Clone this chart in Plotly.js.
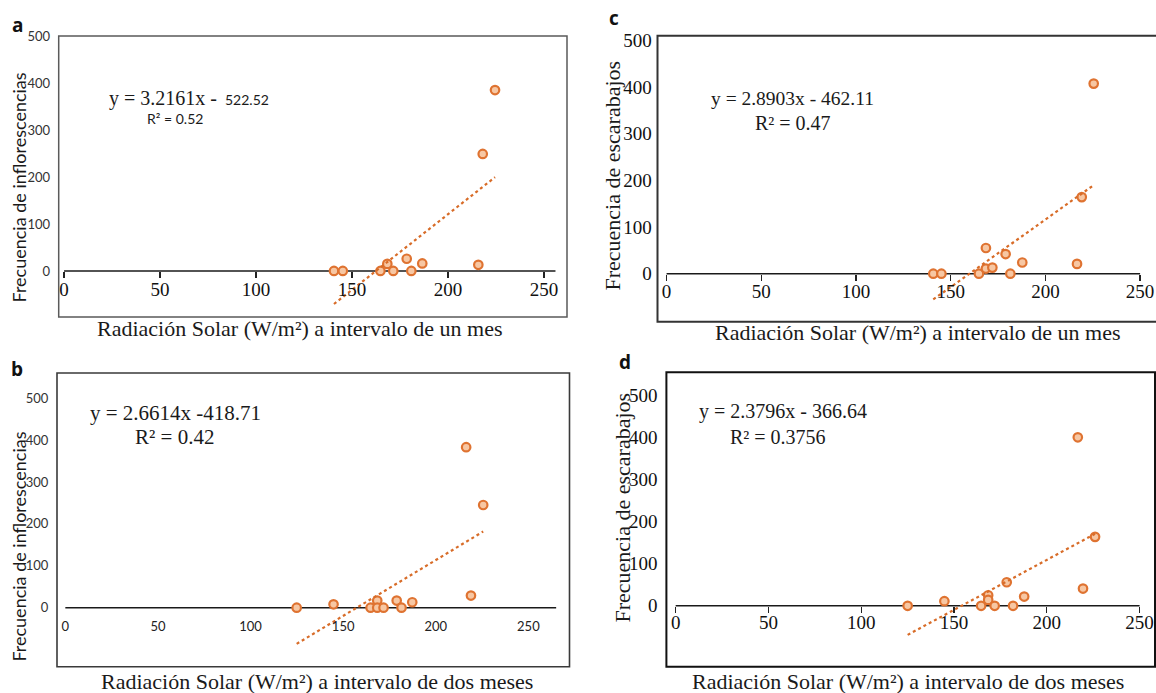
<!DOCTYPE html>
<html>
<head>
<meta charset="utf-8">
<script src="https://cdn.plot.ly/plotly-3.0.1.min.js"></script>
<style>html,body{margin:0;padding:0;background:#fff;}</style>
</head>
<body>
<div id="chart" style="width:1156px;height:693px;"></div>
<script>
// Solar radiation (W/m²) against inflorescence and beetle counts, four panels.
const xTicks = [0, 50, 100, 150, 200, 250];
const yTicks = [0, 100, 200, 300, 400, 500];

// a: inflorescences, one-month interval
const radMesA  = [140.6, 145.2, 164.8, 168.4, 171.5, 178.5, 180.9, 186.6, 215.8, 218.1, 224.5];
const florMesA = [0, 0, 0, 15, 0, 26, 0, 16, 13, 249, 385];
const fitA = [3.2161, -522.52];

// b: inflorescences, two-month interval
const radDosB  = [124.9, 144.8, 164.8, 168.4, 168.4, 171.8, 178.9, 181.5, 187.3, 216.4, 219.0, 225.6];
const florDosB = [0, 8, 0, 17, 0, 0, 17, 0, 13, 383, 29, 245];
const fitB = [2.6614, -418.71];

// c: beetles, one-month interval
const radMesC  = [140.8, 145.1, 164.9, 168.6, 168.6, 172.0, 179.0, 181.5, 187.8, 216.7, 219.2, 225.5];
const escMesC  = [0, 0, 0, 11, 55, 13, 42, 0, 24, 21, 164, 407];
const fitC = [2.8903, -462.11];

// d: beetles, two-month interval
const radDosD  = [125.0, 144.8, 164.6, 168.4, 168.4, 171.9, 178.4, 181.8, 187.8, 216.7, 219.5, 226.0];
const escDosD  = [0, 11, 0, 25, 14, 0, 56, 0, 22, 401, 41, 164];
const fitD = [2.3796, -366.64];

const W = 1156, H = 693;
const ORANGE = '#df7331';
const SERIF = '"Liberation Serif", "Times New Roman", serif';
const SANS = 'Lato, "Open Sans", sans-serif';

// panel geometry (paper fractions) and axis ranges
const panels = [
  { key: '',  xs: radMesA, ys: florMesA, fit: fitA,
    xdom: [58.7 / W, 567 / W], ydom: [1 - 317 / H, 1 - 36 / H],
    xr: [-2.8, 262], yr: [-98, 500], lineEnd: 256, xoff: -5,
    xtf: { family: SERIF, size: 19, color: '#111' }, ytf: { family: SANS, size: 13, color: '#333' },
    ticks: true, ylen: 5, boxColor: '#5a5a5a', boxW: 1.5, open: false },
  { key: '2', xs: radDosB, ys: florDosB, fit: fitB,
    xdom: [57 / W, 569.5 / W], ydom: [1 - 666.7 / H, 1 - 373 / H],
    xr: [-4.5, 272.2], yr: [-140.8, 560], lineEnd: 265, xoff: -2,
    xtf: { family: SANS, size: 13, color: '#222' }, ytf: { family: SANS, size: 13, color: '#333' },
    ticks: false, ylen: 5, boxColor: '#3a3a3a', boxW: 1.6, open: false },
  { key: '3', xs: radMesC, ys: escMesC, fit: fitC,
    xdom: [657.5 / W, 1], ydom: [1 - 321.7 / H, 1 - 35.7 / H],
    xr: [-4.8, 258.4], yr: [-102.8, 509.6], lineEnd: 250, xoff: -5,
    xtf: { family: SERIF, size: 19, color: '#111' }, ytf: { family: SERIF, size: 19, color: '#111' },
    ticks: true, ylen: 1, boxColor: '#333', boxW: 2, open: true },
  { key: '4', xs: radDosD, ys: escDosD, fit: fitD,
    xdom: [666.4 / W, 1155 / W], ydom: [1 - 666.7 / H, 1 - 372.3 / H],
    xr: [-5, 258.3], yr: [-145, 555.7], lineEnd: 250, xoff: -7,
    xtf: { family: SERIF, size: 19, color: '#111' }, ytf: { family: SERIF, size: 19, color: '#111' },
    ticks: true, ylen: 4, boxColor: '#111', boxW: 2, open: false }
];

const data = [];
const layout = {
  width: W, height: H, autosize: false,
  margin: { l: 0, r: 0, t: 0, b: 0 },
  paper_bgcolor: '#fff', plot_bgcolor: '#fff',
  showlegend: false,
  shapes: [], annotations: []
};

panels.forEach(p => {
  const xa = 'x' + p.key, ya = 'y' + p.key;
  // scatter points
  data.push({
    type: 'scatter', mode: 'markers', x: p.xs, y: p.ys, xaxis: xa, yaxis: ya,
    marker: { size: 8.5, color: '#f7c7a3', line: { color: ORANGE, width: 2.2 } },
    cliponaxis: false, hoverinfo: 'x+y'
  });
  // linear trend from the fitted equation, over the observed radiation span
  const lo = Math.min(...p.xs), hi = Math.max(...p.xs);
  data.push({
    type: 'scatter', mode: 'lines', x: [lo, hi],
    y: [p.fit[0] * lo + p.fit[1], p.fit[0] * hi + p.fit[1]],
    xaxis: xa, yaxis: ya,
    line: { color: '#d86c28', width: 2.2, dash: 'dot' }, hoverinfo: 'skip'
  });

  // horizontal axis sits on y = 0
  const pos = p.ydom[0] + (0 - p.yr[0]) / (p.yr[1] - p.yr[0]) * (p.ydom[1] - p.ydom[0]);
  layout['xaxis' + p.key] = {
    domain: p.xdom, range: p.xr, anchor: 'free', position: pos,
    tickvals: xTicks, showgrid: false, zeroline: false, showline: false,
    ticks: 'outside', ticklen: p.ticks ? 6 : 9, tickwidth: 1.3,
    tickcolor: p.ticks ? '#222' : 'rgba(0,0,0,0)',
    ticklabelstandoff: p.xoff,
    tickfont: p.xtf, fixedrange: true
  };
  layout['yaxis' + p.key] = {
    domain: p.ydom, range: p.yr, anchor: 'x' + p.key,
    tickvals: yTicks, showgrid: false, zeroline: false, showline: false,
    ticks: 'outside', ticklen: p.ylen, tickcolor: 'rgba(0,0,0,0)',
    tickfont: p.ytf, fixedrange: true
  };
  // frame (panel c runs off the right edge, so its right side is left open)
  if (p.open) {
    layout.shapes.push({
      type: 'path', xref: xa + ' domain', yref: ya + ' domain',
      path: 'M 1.05 1 L 0 1 L 0 0 L 1.05 0',
      line: { color: p.boxColor, width: p.boxW }, layer: 'below'
    });
  } else {
    layout.shapes.push({
      type: 'rect', xref: xa + ' domain', yref: ya + ' domain',
      x0: 0, x1: 1, y0: 0, y1: 1,
      line: { color: p.boxColor, width: p.boxW }, layer: 'below'
    });
  }
  // axis line
  layout.shapes.push({
    type: 'line', xref: xa, yref: ya, x0: 0, x1: p.lineEnd, y0: 0, y1: 0,
    line: { color: '#1a1a1a', width: 1.6 }, layer: 'below'
  });
});

// text placed in page pixels
function txt(text, x, y, font, extra) {
  return Object.assign({
    text: text, x: x / W, y: 1 - y / H, xref: 'paper', yref: 'paper',
    showarrow: false, xanchor: 'center', yanchor: 'middle', font: font
  }, extra || {});
}
const ink = '#1a1a1a';
const serif = (s) => ({ family: SERIF, size: s, color: ink });
const sans = (s) => ({ family: SANS, size: s, color: ink });
const bold = { family: '"Open Sans", "Liberation Sans", sans-serif', size: 19, color: '#111', weight: 700 };

layout.annotations.push(
  // panel letters
  txt('<b>a</b>', 17, 25, bold),
  txt('<b>b</b>', 16.5, 369, bold),
  txt('<b>c</b>', 614, 18, bold),
  txt('<b>d</b>', 625, 362, bold),

  // axis titles
  txt('Radiación Solar (W/m²) a intervalo de un mes', 299.5, 329, serif(22)),
  txt('Radiación Solar (W/m²) a intervalo de dos meses', 317, 681, serif(22)),
  txt('Radiación Solar (W/m²) a intervalo de un mes', 917.5, 332, serif(22)),
  txt('Radiación Solar (W/m²) a intervalo de dos meses', 908, 681, serif(22)),
  txt('Frecuencia de inflorescencias', 18.5, 188, sans(18), { textangle: -90 }),
  txt('Frecuencia de inflorescencias', 18.6, 547, sans(18), { textangle: -90 }),
  txt('Frecuencia de escarabajos', 612, 175.5, serif(22), { textangle: -90 }),
  txt('Frecuencia de escarabajos', 621.5, 508, serif(22), { textangle: -90 }),

  // fitted equations
  txt('y = 3.2161x -', 106.7, 98.3, serif(20), { xanchor: 'left' }),
  txt('522.52', 223.3, 99.5, sans(14), { xanchor: 'left' }),
  txt('R² = 0.52', 145, 118.3, sans(14), { xanchor: 'left' }),

  txt('y = 2.6614x -418.71', 88, 413.3, serif(21), { xanchor: 'left' }),
  txt('R² = 0.42', 133, 436.7, serif(21), { xanchor: 'left' }),

  txt('y = 2.8903x - 462.11', 708.7, 98.3, serif(19.5), { xanchor: 'left' }),
  txt('R² = 0.47', 752.8, 123.3, serif(20), { xanchor: 'left' }),

  txt('y = 2.3796x - 366.64', 697, 411, serif(20), { xanchor: 'left' }),
  txt('R² = 0.3756', 728, 436.7, serif(20), { xanchor: 'left' })
);

Plotly.newPlot('chart', data, layout, { displayModeBar: false, staticPlot: true });
</script>
</body>
</html>
